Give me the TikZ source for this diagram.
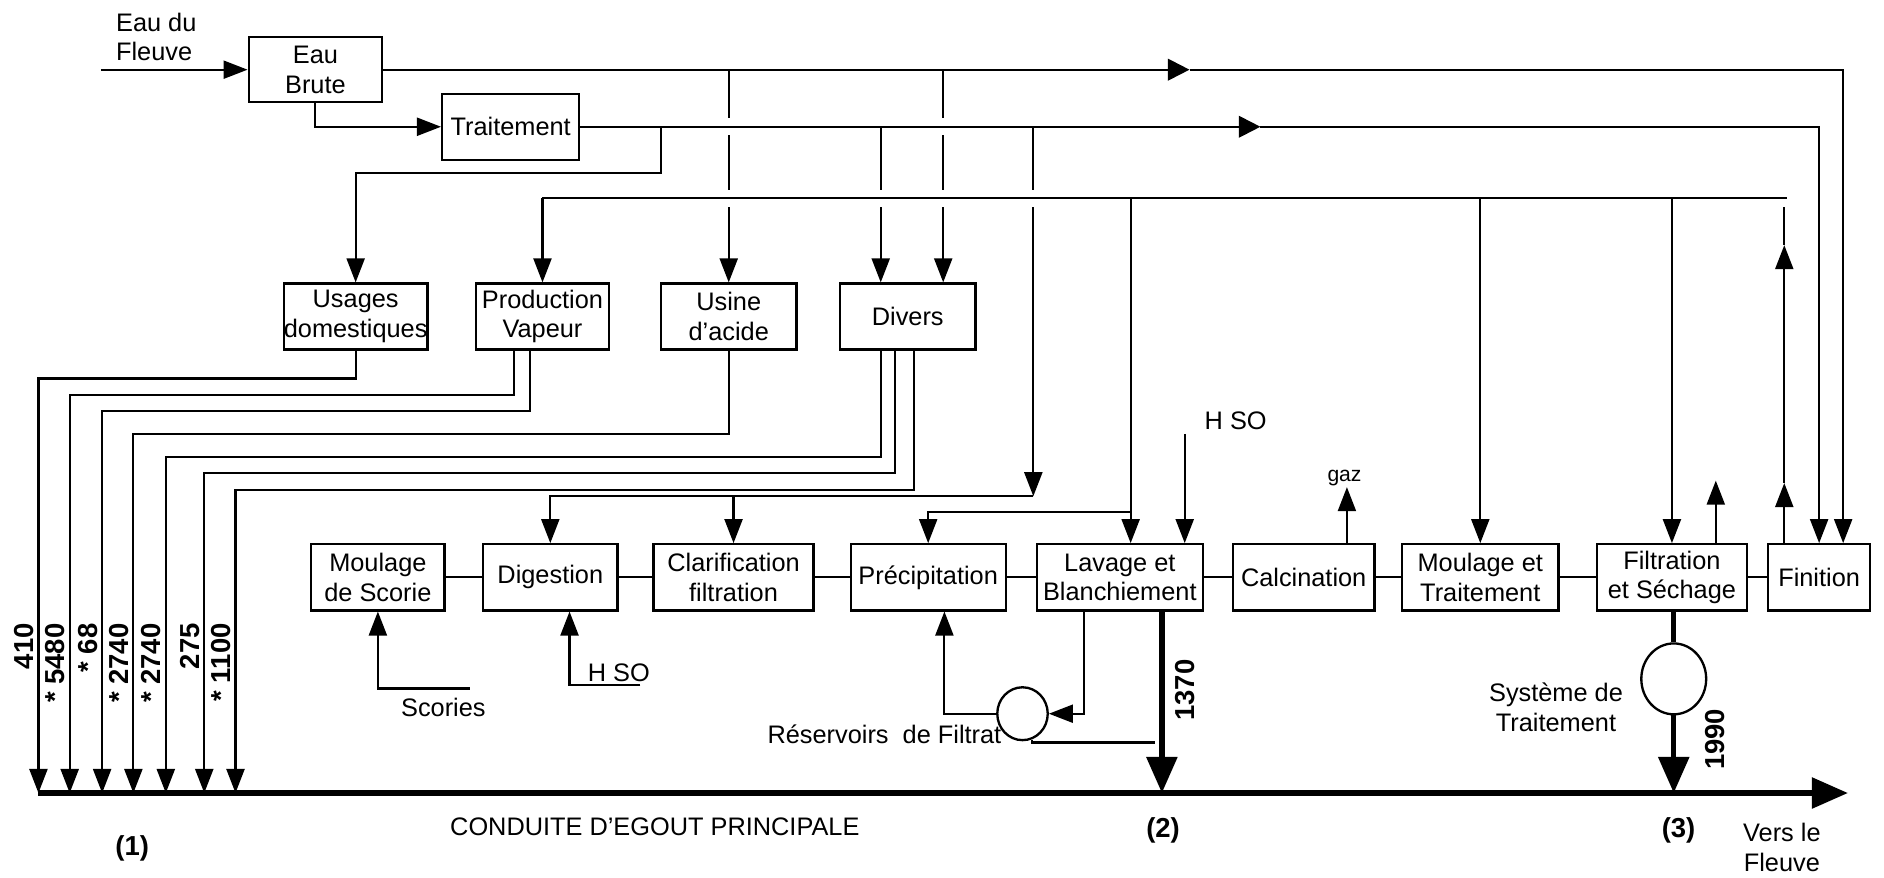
\documentclass[tikz,border=0pt]{standalone}
\usepackage{fontspec}
\setmainfont{Liberation Sans}
\usepackage{tikz}
\usetikzlibrary{arrows.meta, positioning, shapes.geometric}

\begin{document}
\begin{tikzpicture}[
    x=0.2mm, y=-0.2mm, line width=1pt,
    boite/.style={draw, line width=1.1pt, minimum height=1.1cm, align=center, inner sep=1pt, font=\fontsize{12}{14}\selectfont},
    bassin/.style={ellipse, draw, line width=1.1pt, inner sep=0pt},
    fleche/.style={-{Triangle[length=4mm, width=3mm]}},
    flechemi/.style={-{Triangle[length=3.6mm, width=3.6mm]}},
    egout/.style={line width=2.6pt},
    flechegout/.style={egout, -{Triangle[length=6mm, width=5mm]}},
    pont/.style={preaction={draw=white, line width=8pt, shorten <=3pt}},
    texte/.style={font=\fontsize{12}{14}\selectfont, inner sep=1pt},
    valeur/.style={font=\bfseries\fontsize{13}{15}\selectfont, rotate=90, anchor=east, inner sep=0pt}
  ]
  \useasboundingbox (0,0) rectangle (1568,730);

  % Eau brute et traitement
  \node[texte, anchor=north west, align=left] (fleuve) at (94,8) {Eau du\\Fleuve};
  \node[boite, minimum width=2.22cm, minimum height=1.08cm] (brute) at (262.5,58) {Eau\\Brute};
  \node[boite, minimum width=2.28cm] (trait) at (425,105.5) {Traitement};

  % Utilisateurs
  \node[boite, minimum width=2.24cm, inner xsep=0pt] (usages) at (296,263.5) {Usages\\domestiques};
  \node[boite, minimum width=2.22cm] (prod) at (451.5,263.5) {Production\\Vapeur};
  \node[boite, minimum width=2.26cm] (usine) at (606.5,263.5) {Usine\\d'acide};
  \node[boite, minimum width=2.26cm] (divers) at (755.5,263.5) {Divers};

  % Chaine de fabrication
  \node[boite, minimum width=2.22cm] (scorie) at (314.5,480.5) {Moulage\\de Scorie};
  \node[boite, minimum width=2.24cm] (digest) at (458,480.5) {Digestion};
  \node[boite, minimum width=2.66cm] (clarif) at (610.5,480.5) {Clarification\\filtration};
  \node[boite, minimum width=2.58cm] (precip) at (772.5,480.5) {Précipitation};
  \node[boite, minimum width=2.76cm] (lavage) at (932,480.5) {Lavage et\\Blanchiement};
  \node[boite, minimum width=2.36cm] (calcin) at (1085,480.5) {Calcination};
  \node[boite, minimum width=2.6cm] (moulage) at (1232,480.5) {Moulage et\\Traitement};
  \node[boite, minimum width=2.5cm] (filtre) at (1391.5,480.5) {Filtration\\et Séchage};
  \node[boite, minimum width=1.7cm] (finition) at (1514,480.5) {Finition};
  \foreach \a/\b in {scorie/digest, digest/clarif, clarif/precip, precip/lavage,
                     lavage/calcin, calcin/moulage, moulage/filtre, filtre/finition}
    \draw (\a) -- (\b);

  % Reservoirs
  \node[bassin, minimum width=0.84cm, minimum height=0.88cm] (reserv) at (851,594) {};
  \node[bassin, minimum width=1.08cm, minimum height=1.18cm] (systeme) at (1393,565) {};

  \coordinate (l1) at (0,58);
  \coordinate (l2) at (0,105.5);
  \coordinate (l3) at (0,165);
  \coordinate (egw) at (32,660);
  \coordinate (ege) at (1538,660);

  % Arrivee d'eau
  \coordinate (entree) at (84,58);
  \draw[fleche] (entree) -- (brute.west);
  \draw[fleche] (brute.south) |- (trait.west);

  % Ligne eau brute
  \coordinate (l1m) at (990,58);
  \coordinate (fin1) at ([xshift=4mm]finition.north);
  \draw[flechemi] (brute.east) -- (l1m);
  \draw[fleche] (l1m) -| (fin1);
  \draw[fleche] (usine.north |- l1) -- (usine.north);
  \coordinate (dn2) at ([xshift=5.9mm]divers.north);
  \draw[fleche] (dn2 |- l1) -- (dn2);

  % Ligne eau traitee
  \coordinate (l2a) at (900,105.5);
  \coordinate (l2m) at (1049,105.5);
  \draw[pont] (trait.east) -- (l2a);
  \draw[flechemi] (l2a) -- (l2m);
  \draw[fleche] (l2m) -| (finition.north);
  \coordinate (b1) at (550,105.5);
  \coordinate (b2) at (550,144);
  \draw[fleche] (b1) -- (b2) -| (usages.north);
  \coordinate (dn1) at ([xshift=-4.5mm]divers.north);
  \draw[fleche] (dn1 |- l2) -- (dn1);
  \coordinate (alim) at (860,413);
  \draw[fleche] (alim |- l2) -- (alim);
  \draw[fleche] (alim) -| (digest.north);
  \draw[fleche] (clarif.north |- alim) -- (clarif.north);

  % Retour de la finition
  \coordinate (fin0) at ([xshift=-5.8mm]finition.north);
  \draw[fleche] (fin0) -- ++(0,-50) coordinate (fina);
  \draw[fleche] (fina) -- ++(0,-198) coordinate (finb);
  \draw (finb) -- (fin0 |- l3);

  % Ligne eau de service
  \coordinate (l3e) at (1487,165);
  \draw[pont] (prod.north |- l3) -- (l3e);
  \draw[fleche] (prod.north |- l3) -- (prod.north);
  \coordinate (lv1) at ([xshift=1.8mm]lavage.north);
  \draw[fleche] (lv1 |- l3) -- (lv1);
  \coordinate (alim2) at ([yshift=5.2mm]lv1);
  \draw[fleche] (alim2) -| (precip.north);
  \draw[fleche] (moulage.north |- l3) -- (moulage.north);
  \draw[fleche] (filtre.north |- l3) -- (filtre.north);

  % Reactifs et gaz
  \coordinate (lv2) at ([xshift=10.8mm]lavage.north);
  \draw[fleche] ([yshift=18.2mm]lv2) -- (lv2);
  \node[texte, anchor=west] (hso1) at (1000,350) {H SO};
  \coordinate (cg) at ([xshift=7.2mm]calcin.north);
  \node[font=\fontsize{10}{12}\selectfont, inner sep=0pt] (gaz) at (1119,398) {gaz};
  \draw[fleche] (cg) -- (cg |- gaz.south);
  \coordinate (fu) at ([xshift=7.3mm]filtre.north);
  \draw[fleche] (fu) -- ++(0,-52);
  \coordinate (sc) at (391,573);
  \draw[fleche] (sc) -| (scorie.south);
  \node[texte, anchor=north] (scories) at (369,578) {Scories};
  \coordinate (dg) at ([xshift=3.2mm]digest.south);
  \coordinate (hs2) at (533,570);
  \draw[fleche] (hs2) -| (dg);
  \node[texte, anchor=south] (hso2) at (515,570) {H SO};

  % Filtrat
  \coordinate (pu) at ([xshift=2.7mm]precip.south);
  \draw[fleche] (reserv.west) -| (pu);
  \coordinate (lb) at ([xshift=-6mm]lavage.south);
  \draw[fleche] (lb) |- (reserv.east);
  \coordinate (l13) at ([xshift=7mm]lavage.south);
  \coordinate (rt) at (961,618);
  \draw (reserv.290) |- (rt);
  \node[texte, anchor=east] (filtrat) at (836,611) {Réservoirs\ \ de Filtrat};

  % Rejets vers l'egout
  \draw[flechegout] (l13) -- (l13 |- egw);
  \node[valeur] (v1370) at (986,548) {1370};
  \draw[egout] (filtre.south -| systeme) -- (systeme.north);
  \draw[flechegout] (systeme.south) -- (systeme |- egw);
  \node[valeur] (v1990) at (1427,589) {1990};
  \node[texte, align=center] (systxt) at (1295,588.5) {Système de\\Traitement};

  \coordinate (ps1) at ([xshift=-4.7mm]prod.south);
  \coordinate (ps2) at ([xshift=-2.1mm]prod.south);
  \coordinate (ds1) at ([xshift=-4.5mm]divers.south);
  \coordinate (ds2) at ([xshift=-2.1mm]divers.south);
  \coordinate (ds3) at ([xshift=1.1mm]divers.south);
  \foreach \src/\xd/\yd/\val [count=\i] in {usages.south/32/315/410, ps1/58/329/{* 5480},
      ps2/85/342/{* 68}, usine.south/111/361/{* 2740}, ds1/138/380/{* 2740},
      ds2/170/394/275, ds3/196/408/{* 1100}} {
    \draw[fleche] (\src) |- (\xd,\yd) -- (\xd,660);
    \node[valeur] (v\i) at (\xd-12,518) {\val};
  }

  % Conduite principale
  \draw[flechegout] (egw) -- (ege);
  \node[texte] (conduite) at (545,688) {CONDUITE D'EGOUT PRINCIPALE};
  \node[font=\bfseries\fontsize{13}{15}\selectfont] (pt1) at (110,706) {(1)};
  \node[font=\bfseries\fontsize{13}{15}\selectfont] (pt2) at (968,691) {(2)};
  \node[font=\bfseries\fontsize{13}{15}\selectfont] (pt3) at (1397,691) {(3)};
  \node[texte, align=center] (vers) at (1483,705.5) {Vers le\\Fleuve};
\end{tikzpicture}
\end{document}
